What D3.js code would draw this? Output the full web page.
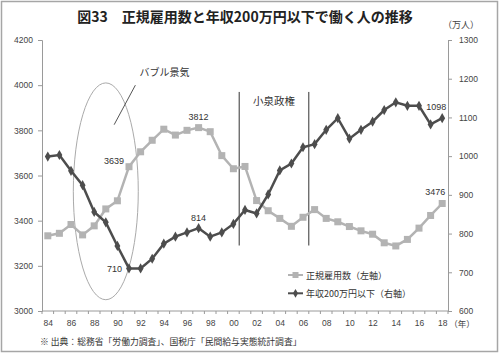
<!DOCTYPE html>
<html>
<head>
<meta charset="utf-8">
<script src="https://cdn.jsdelivr.net/npm/d3@7"></script>
<style>
body { margin: 0; background: #fff; }
text { font-family: "Liberation Sans", Arial, "Noto Sans CJK JP", sans-serif; }
.jp { font-family: "Noto Sans CJK JP", sans-serif; }
</style>
</head>
<body>
<script>
var years = [1984,1985,1986,1987,1988,1989,1990,1991,1992,1993,1994,1995,1996,1997,1998,1999,2000,
  2001,2002,2003,2004,2005,2006,2007,2008,2009,2010,2011,2012,2013,2014,2015,2016,2017,2018]
// 正規雇用数 (左軸)
var regular = [3333,3344,3383,3337,3377,3452,3488,3639,3705,3756,3805,3779,3800,3812,3794,3688,3630,
  3640,3489,3444,3410,3375,3415,3449,3410,3395,3374,3355,3340,3302,3288,3317,3367,3423,3476]
// 年収200万円以下 (右軸)
var lowIncome = [999,1003,962,925,856,829,768,710,710,735,774,792,803,814,792,803,825,
  861,852,901,963,981,1023,1031,1068,1098,1045,1068,1089,1119,1139,1130,1130,1082,1098]
var leftTicks = [3000,3200,3400,3600,3800,4000,4200]
var rightTicks = [600,700,800,900,1000,1100,1200,1300]
var xLabels = ['84','86','88','90','92','94','96','98','00','02','04','06','08','10','12','14','16','18']
var seriesNames = ['正規雇用数（左軸）', '年収200万円以下（右軸）']
var colors = ['#b3b3b3', '#4d4d4d']

var width = 500, height = 354
var margin = {left: 42, right: 52, top: 40, bottom: 43}
var svg = d3.select('body').append('svg').attr('width', width).attr('height', height)

svg.append('rect').attr('x', 1.5).attr('y', 1.5).attr('width', 496).attr('height', 350)
  .attr('fill', '#fff').attr('stroke', '#a6a6a6').attr('stroke-width', 1.5)

var x = d3.scalePoint().domain(years).range([margin.left, width - margin.right]).padding(0.5)
var step = x.step()
var yL = d3.scaleLinear().domain([3000, 4200]).range([height - margin.bottom, margin.top])
var yR = d3.scaleLinear().domain([600, 1300]).range([height - margin.bottom, margin.top])
var bottom = height - margin.bottom

// title
svg.append('text').attr('class', 'jp').attr('x', 245).attr('y', 22).attr('text-anchor', 'middle')
  .attr('font-size', 14).attr('font-weight', 'bold').attr('fill', '#222')
  .text('図33　正規雇用数と年収200万円以下で働く人の推移')
svg.append('text').attr('class', 'jp').attr('x', 461).attr('y', 28).attr('text-anchor', 'middle')
  .attr('font-size', 9).attr('fill', '#444').text('（万人）')

// axes
var axisColor = '#9a9a9a'
var gl = svg.append('g').attr('transform', 'translate(' + margin.left + ',0)')
  .call(d3.axisLeft(yL).tickValues(leftTicks).tickSize(4).tickPadding(5).tickFormat(d3.format('d')))
var gr = svg.append('g').attr('transform', 'translate(' + (width - margin.right) + ',0)')
  .call(d3.axisRight(yR).tickValues(rightTicks).tickSize(4).tickPadding(7).tickFormat(d3.format('d')))
var gx = svg.append('g').attr('transform', 'translate(0,' + bottom + ')')
  .call(d3.axisBottom(x).tickValues(years.filter(function (d, i) { return i % 2 == 0 }))
    .tickSize(0).tickPadding(9).tickFormat(function (d, i) { return xLabels[i] }))
;[gl, gr, gx].forEach(function (g) {
  g.selectAll('path,line').attr('stroke', axisColor)
  g.selectAll('text').attr('font-size', 8.5).attr('fill', '#444')
    .style('font-family', '"Liberation Sans", Arial, sans-serif')
})
gx.select('.domain').remove()
svg.append('line').attr('x1', margin.left).attr('x2', width - margin.right)
  .attr('y1', bottom).attr('y2', bottom).attr('stroke', axisColor)
svg.append('g').selectAll('line').data(years.concat([2019])).enter().append('line')
  .attr('x1', function (d) { return d == 2019 ? width - margin.right : x(d) - step / 2 })
  .attr('x2', function (d) { return d == 2019 ? width - margin.right : x(d) - step / 2 })
  .attr('y1', bottom).attr('y2', bottom + 3).attr('stroke', axisColor)
svg.append('text').attr('class', 'jp').attr('x', 462).attr('y', bottom + 16)
  .attr('text-anchor', 'middle').attr('font-size', 8.5).attr('fill', '#444').text('（年）')

// bubble ellipse + note
svg.append('ellipse').attr('cx', x(1989)).attr('cy', (yL(4010) + yL(3050)) / 2)
  .attr('rx', step * 2.8).attr('ry', (yL(3050) - yL(4010)) / 2)
  .attr('fill', 'none').attr('stroke', '#aaa').attr('stroke-width', 1)
svg.append('line').attr('x1', x(1991) + step * 0.55).attr('y1', yL(4000))
  .attr('x2', x(1990) - step * 0.28).attr('y2', yL(3825)).attr('stroke', '#555').attr('stroke-width', 1)
svg.append('text').attr('class', 'jp').attr('x', x(1992) - 1).attr('y', yL(4040))
  .attr('font-size', 10).attr('fill', '#333').text('バブル景気')

// Koizumi
var kx = [x(2001) - step / 2, x(2007) - step / 2]
svg.append('g').selectAll('line').data(kx).enter().append('line')
  .attr('x1', function (d) { return d }).attr('x2', function (d) { return d })
  .attr('y1', yL(3970)).attr('y2', yL(3290)).attr('stroke', '#333').attr('stroke-width', 1)
svg.append('text').attr('class', 'jp').attr('x', (kx[0] + kx[1]) / 2).attr('y', yL(3910))
  .attr('text-anchor', 'middle').attr('font-size', 10.5).attr('fill', '#333').text('小泉政権')

// series
var lineL = d3.line().x(function (d, i) { return x(years[i]) }).y(function (d) { return yL(d) })
var lineR = d3.line().x(function (d, i) { return x(years[i]) }).y(function (d) { return yR(d) })
svg.append('path').datum(regular).attr('d', lineL).attr('fill', 'none')
  .attr('stroke', colors[0]).attr('stroke-width', 2.5)
svg.append('g').selectAll('rect').data(regular).enter().append('rect')
  .attr('x', function (d, i) { return x(years[i]) - 3.5 }).attr('y', function (d) { return yL(d) - 3.5 })
  .attr('width', 7).attr('height', 7).attr('fill', colors[0])
svg.append('path').datum(lowIncome).attr('d', lineR).attr('fill', 'none')
  .attr('stroke', colors[1]).attr('stroke-width', 2.5)
var diamond = d3.symbol().type(d3.symbolDiamond).size(30)
svg.append('g').selectAll('path').data(lowIncome).enter().append('path')
  .attr('d', diamond)
  .attr('transform', function (d, i) { return 'translate(' + x(years[i]) + ',' + yR(d) + ')' })
  .attr('fill', colors[1])

// data labels
function label(px, py, dx, dy, anchor, t) {
  svg.append('text').attr('x', px + dx).attr('y', py + dy).attr('text-anchor', anchor)
    .attr('font-size', 9).attr('fill', '#333').text(t)
}
var iOf = function (yr) { return years.indexOf(yr) }
label(x(1991), yL(regular[iOf(1991)]), -5, -3, 'end', regular[iOf(1991)])
label(x(1997), yL(regular[iOf(1997)]), 0, -7.5, 'middle', regular[iOf(1997)])
label(x(2018), yL(regular[iOf(2018)]), -7, -8.5, 'middle', regular[iOf(2018)])
label(x(1991), yR(lowIncome[iOf(1991)]), -7, 3.5, 'end', lowIncome[iOf(1991)])
label(x(1997), yR(lowIncome[iOf(1997)]), 0, -7.5, 'middle', lowIncome[iOf(1997)])
label(x(2018), yR(lowIncome[iOf(2018)]), -6, -8, 'middle', lowIncome[iOf(2018)])

// legend
var leg = svg.append('g').selectAll('g').data(seriesNames).enter().append('g')
  .attr('transform', function (d, i) { return 'translate(288,' + (275 + i * 18.3) + ')' })
leg.append('line').attr('x1', 0).attr('x2', 15).attr('stroke', function (d, i) { return colors[i] })
  .attr('stroke-width', 2)
leg.each(function (d, i) {
  var g = d3.select(this)
  if (i == 0) g.append('rect').attr('x', 4.5).attr('y', -3).attr('width', 6).attr('height', 6).attr('fill', colors[0])
  else g.append('path').attr('d', d3.symbol().type(d3.symbolDiamond).size(22)).attr('transform', 'translate(7.5,0)').attr('fill', colors[1])
})
leg.append('text').attr('class', 'jp').attr('x', 18).attr('y', 3.5).attr('font-size', 9)
  .attr('fill', '#333').text(function (d) { return d })

// source
svg.append('text').attr('class', 'jp').attr('x', 40).attr('y', 345).attr('font-size', 8.8)
  .attr('fill', '#333').text('※ 出典：総務省「労働力調査」、国税庁「民間給与実態統計調査」')
</script>
</body>
</html>
